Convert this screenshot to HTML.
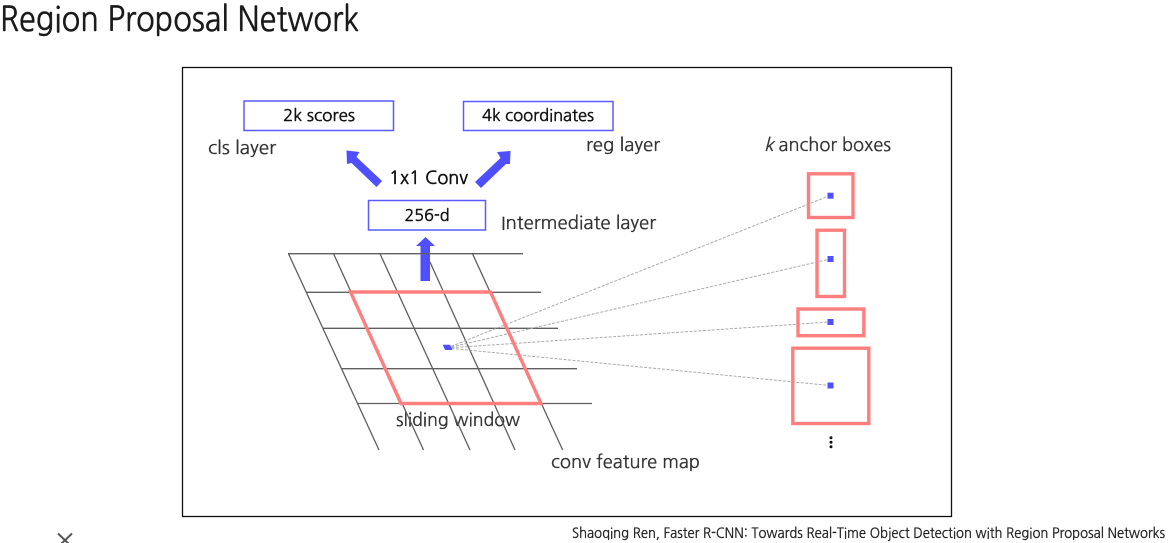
<!DOCTYPE html>
<html>
<head>
<meta charset="utf-8">
<style>
html,body{margin:0;padding:0;background:#fff;width:1169px;height:543px;overflow:hidden}
svg{display:block}
text{font-family:"NanumGothic","Liberation Sans",sans-serif;fill:#222;stroke:#222;stroke-width:.3px}
</style>
</head>
<body>
<svg width="1169" height="543" viewBox="0 0 1169 543" xmlns="http://www.w3.org/2000/svg">
<rect width="1169" height="543" fill="#fff"/>
<text x="0" y="31" font-size="34" textLength="359" lengthAdjust="spacingAndGlyphs" style="fill:#1a1a1a;stroke:#1a1a1a;stroke-width:.5px">Region Proposal Network</text>
<rect x="182.5" y="67.5" width="769" height="449" fill="#fff" stroke="#111" stroke-width="1.3"/>

<g fill="#fff" stroke="#5a5aff" stroke-width="1.5">
<rect x="244" y="101" width="149.5" height="29.5"/>
<rect x="463.5" y="101.5" width="149.5" height="29"/>
<rect x="368.5" y="200.5" width="117" height="29.5"/>
</g>
<g font-size="16" text-anchor="middle">
<text x="319" y="121" textLength="72" lengthAdjust="spacingAndGlyphs" style="stroke:#111;fill:#111;stroke-width:.45px">2k scores</text>
<text x="538" y="121" textLength="112" lengthAdjust="spacingAndGlyphs" style="stroke:#111;fill:#111;stroke-width:.45px">4k coordinates</text>
<text x="427" y="221" textLength="45" lengthAdjust="spacingAndGlyphs" style="stroke:#111;fill:#111;stroke-width:.45px">256-d</text>
</g>
<g font-size="18">
<text x="208" y="154" textLength="68" lengthAdjust="spacingAndGlyphs" style="fill:#333;stroke:#333">cls layer</text>
<text x="586" y="151" textLength="74" lengthAdjust="spacingAndGlyphs" style="fill:#333;stroke:#333">reg layer</text>
<text x="501" y="229" textLength="155" lengthAdjust="spacingAndGlyphs" style="fill:#333;stroke:#333">Intermediate layer</text>
<text x="389" y="184" textLength="79" lengthAdjust="spacingAndGlyphs" style="fill:#111;stroke:#111;stroke-width:.5px">1x1 Conv</text>
<text x="396" y="426" textLength="124" lengthAdjust="spacingAndGlyphs" style="fill:#333;stroke:#333">sliding window</text>
<text x="551" y="468" textLength="149" lengthAdjust="spacingAndGlyphs" style="fill:#333;stroke:#333">conv feature map</text>
<text x="764" y="151" textLength="127" lengthAdjust="spacingAndGlyphs" style="fill:#333;stroke:#333"><tspan font-style="italic">k</tspan> anchor boxes</text>
</g>

<g fill="#4f4fff">
<polygon points="346.500,150.500 359.500,152 356.500,157 382,181 376.500,187 351.500,163 347,164"/>
<polygon points="510.500,151 497,152 500.500,158 475,182 481,188 506,164 510,164"/>
<polygon points="425.500,237 435,246 430,246 430,281 420.500,281 420.500,246 416,246"/>
</g>

<g stroke="#5f5f5f" stroke-width="1.3" fill="none">
<line x1="288" y1="253.700" x2="523" y2="253.700"/>
<line x1="306" y1="292.300" x2="541" y2="292.300"/>
<line x1="323" y1="328.300" x2="558" y2="328.300"/>
<line x1="342" y1="368.700" x2="577" y2="368.700"/>
<line x1="357" y1="403.500" x2="592" y2="403.500"/>
<line x1="288.500" y1="253.700" x2="379" y2="450"/>
<line x1="333.500" y1="253.700" x2="423.500" y2="450"/>
<line x1="380" y1="253.700" x2="470" y2="450"/>
<line x1="430" y1="262" x2="515" y2="450"/>
<line x1="472.500" y1="253.700" x2="562.700" y2="450"/>
</g>

<g stroke="#aaa" stroke-width="1" stroke-dasharray="3 1.500" fill="none">
<line x1="447" y1="348" x2="830" y2="195.500"/>
<line x1="447" y1="348" x2="830" y2="259"/>
<line x1="447" y1="348" x2="830" y2="322"/>
<line x1="447" y1="348" x2="830" y2="385.500"/>
</g>

<polygon points="350.500,292 490.500,292 541,403.500 401,403.500" fill="none" stroke="#ff7f7f" stroke-width="3.400"/>
<polygon points="442.700,344.700 450,344.700 452.500,350 445,350" fill="#4f4fff"/>

<g fill="none" stroke="#ff7f7f" stroke-width="3.400">
<rect x="808.500" y="173.800" width="44.500" height="43.700"/>
<rect x="817" y="230.200" width="27.500" height="66.300"/>
<rect x="798" y="309" width="65.800" height="26.700"/>
<rect x="792.800" y="348.200" width="76" height="75.300"/>
</g>
<g fill="#4f4fff">
<rect x="827.500" y="192.700" width="6" height="6"/>
<rect x="827.500" y="256" width="6" height="6"/>
<rect x="827.500" y="319" width="6" height="6"/>
<rect x="827.500" y="382.500" width="6" height="6"/>
</g>
<g fill="#111">
<circle cx="831" cy="437.800" r="1.500"/>
<circle cx="831" cy="442.300" r="1.500"/>
<circle cx="831" cy="446.800" r="1.500"/>
</g>

<g stroke="#555" stroke-width="2" fill="none">
<line x1="58" y1="533.500" x2="72" y2="547"/>
<line x1="72" y1="533.500" x2="58" y2="547"/>
</g>

<text x="572" y="538" font-size="14" textLength="593" lengthAdjust="spacingAndGlyphs" style="fill:#222">Shaoqing Ren, Faster R-CNN: Towards Real-Time Object Detection with Region Proposal Networks</text>
</svg>
</body>
</html>
